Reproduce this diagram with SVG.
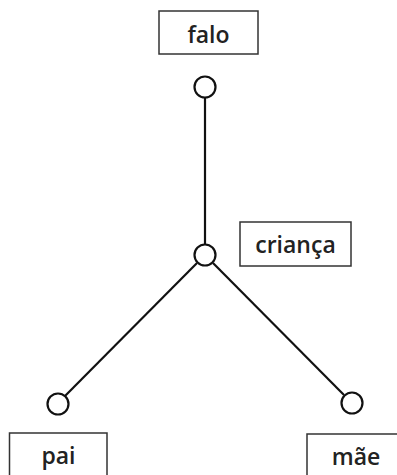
<svg xmlns="http://www.w3.org/2000/svg" width="397" height="475" viewBox="0 0 397 475">
<style>
.box{fill:#fff;stroke:#333;stroke-width:1.5}
.lbl{font-family:"Open Sans","DejaVu Sans",sans-serif;font-size:23px;font-weight:600;fill:#222;text-anchor:middle}
.node{fill:#fff;stroke:#111;stroke-width:2.2}
.edge{stroke:#111;stroke-width:2.2;fill:none}
</style>
<rect width="397" height="475" fill="#fff"/>
<g id="connectors">
<line class="edge" x1="205" y1="98" x2="205" y2="244"/>
<line class="edge" x1="197" y1="263" x2="65" y2="396"/>
<line class="edge" x1="213" y1="263" x2="344" y2="395"/>
</g>
<g id="falo">
<rect class="box" x="159" y="11" width="99" height="43"/>
<text class="lbl" x="208.5" y="43">falo</text>
</g>
<g id="crianca">
<rect class="box" x="240" y="222" width="111" height="44"/>
<text class="lbl" x="295.5" y="253">criança</text>
</g>
<g id="pai">
<rect class="box" x="9.5" y="433" width="97.5" height="50"/>
<text class="lbl" x="58.5" y="464">pai</text>
</g>
<g id="mae">
<rect class="box" x="307" y="434" width="98" height="50"/>
<text class="lbl" x="356" y="465">mãe</text>
</g>
<g id="n-top"><circle class="node" cx="205" cy="87" r="10.5"/></g>
<g id="n-mid"><circle class="node" cx="205" cy="255" r="10.5"/></g>
<g id="n-left"><circle class="node" cx="58" cy="404" r="10.5"/></g>
<g id="n-right"><circle class="node" cx="352" cy="403" r="10.5"/></g>
</svg>
